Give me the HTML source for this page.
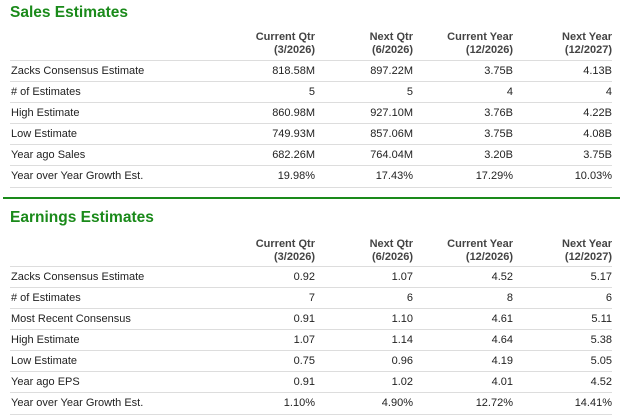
<!DOCTYPE html>
<html><head><meta charset="utf-8"><style>
body{margin:0;width:620px;height:419px;background:#fff;font-family:"Liberation Sans",Arial,sans-serif;color:#222;position:relative;overflow:hidden}
.t{position:absolute;left:10px;font-size:15.5px;font-weight:bold;color:#1a8a1a}
.row{position:absolute;left:10px;width:602px;height:21px;border-top:1px solid #ddd;font-size:11px;line-height:21px}
.row span{position:absolute;top:0}
.l{left:1px}
.c1{right:297px}.c2{right:199px}.c3{right:99px}.c4{right:0}
.hd{position:absolute;left:10px;width:602px;height:26px;font-size:11px;font-weight:bold;color:#444;line-height:13px}
.hd span{position:absolute;text-align:right;top:0}
.green{position:absolute;left:3px;width:617px;top:197px;height:2px;background:#1a8a1a}
</style></head><body>
<div class="t" style="top:4px">Sales Estimates</div>
<div class="hd" style="top:31px">
<span class="c1">Current Qtr<br>(3/2026)</span><span class="c2">Next Qtr<br>(6/2026)</span><span class="c3">Current Year<br>(12/2026)</span><span class="c4">Next Year<br>(12/2027)</span></div>
<div id="sales"></div>
<div class="green"></div>
<div class="t" style="top:209px">Earnings Estimates</div>
<div class="hd" style="top:238px">
<span class="c1">Current Qtr<br>(3/2026)</span><span class="c2">Next Qtr<br>(6/2026)</span><span class="c3">Current Year<br>(12/2026)</span><span class="c4">Next Year<br>(12/2027)</span></div>
<div id="earn"></div>
<script>
const salesRows=[["Zacks Consensus Estimate","818.58M","897.22M","3.75B","4.13B"],["# of Estimates","5","5","4","4"],["High Estimate","860.98M","927.10M","3.76B","4.22B"],["Low Estimate","749.93M","857.06M","3.75B","4.08B"],["Year ago Sales","682.26M","764.04M","3.20B","3.75B"],["Year over Year Growth Est.","19.98%","17.43%","17.29%","10.03%"]];
const earnRows=[["Zacks Consensus Estimate","0.92","1.07","4.52","5.17"],["# of Estimates","7","6","8","6"],["Most Recent Consensus","0.91","1.10","4.61","5.11"],["High Estimate","1.07","1.14","4.64","5.38"],["Low Estimate","0.75","0.96","4.19","5.05"],["Year ago EPS","0.91","1.02","4.01","4.52"],["Year over Year Growth Est.","1.10%","4.90%","12.72%","14.41%"]];
function build(id,rows,top){
 const host=document.getElementById(id);
 rows.forEach((r,i)=>{
  const d=document.createElement('div');d.className='row';
  
  
  d.style.top=(top+i*21)+'px';
  if(i==rows.length-1)d.style.borderBottom='1px solid #ddd';
  ['l','c1','c2','c3','c4'].forEach((c,j)=>{const s=document.createElement('span');s.className=c;s.textContent=r[j];
   
   
   d.appendChild(s);});
  host.appendChild(d);
 });
}
build('sales',salesRows,60);
build('earn',earnRows,266);
</script>
</body></html>
